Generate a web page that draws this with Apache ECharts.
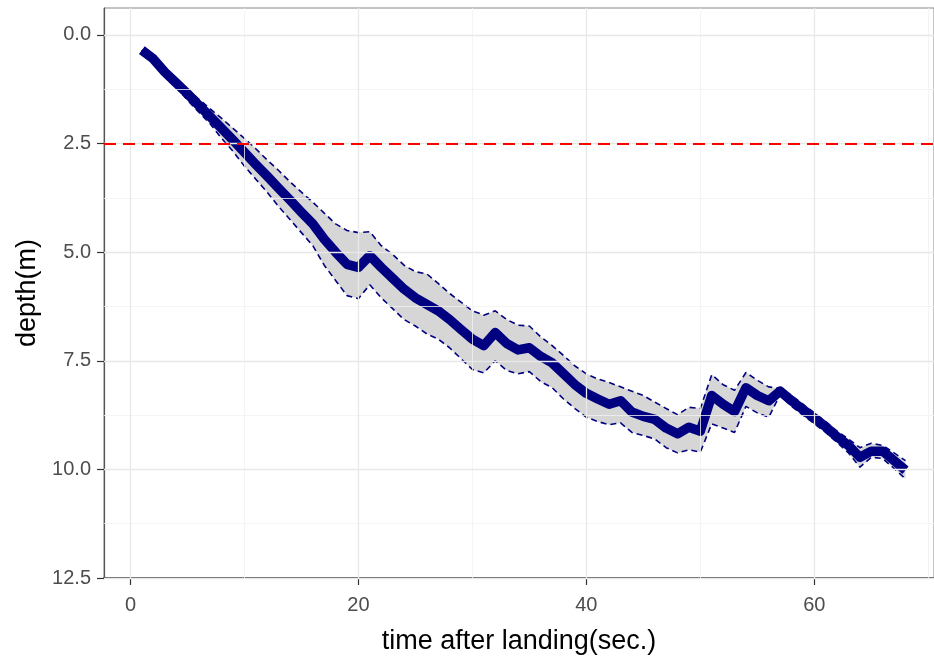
<!DOCTYPE html>
<html>
<head>
<meta charset="utf-8">
<script src="https://cdn.jsdelivr.net/npm/echarts@6/dist/echarts.min.js"></script>
<style>
  html, body { margin: 0; padding: 0; background: #ffffff; }
  #chart { width: 934px; height: 660px; }
</style>
</head>
<body>
<div id="chart"></div>
<script>
const times = [
  1, 2, 3, 4, 5, 6, 7, 8, 9, 10, 11, 12, 13, 14, 15, 16, 17,
  18, 19, 20, 21, 22, 23, 24, 25, 26, 27, 28, 29, 30, 31, 32, 33, 34,
  35, 36, 37, 38, 39, 40, 41, 42, 43, 44, 45, 46, 47, 48, 49, 50, 51,
  52, 53, 54, 55, 56, 57, 58, 59, 60, 61, 62, 63, 64, 65, 66, 67, 68
];

// mean depth per second
const depthMean = [
  0.35, 0.55, 0.85, 1.1, 1.35, 1.62, 1.88, 2.15, 2.42, 2.7, 2.98, 3.25, 3.53, 3.8, 4.08, 4.35, 4.7,
  5.0, 5.28, 5.35, 5.08, 5.35, 5.6, 5.85, 6.05, 6.2, 6.35, 6.55, 6.78, 7.0, 7.15, 6.85, 7.1, 7.25,
  7.2, 7.4, 7.55, 7.8, 8.05, 8.25, 8.38, 8.5, 8.42, 8.68, 8.78, 8.85, 9.05, 9.18, 9.03, 9.12, 8.3,
  8.5, 8.67, 8.12, 8.3, 8.42, 8.2, 8.42, 8.62, 8.82, 9.02, 9.25, 9.45, 9.72, 9.58, 9.58, 9.8, 10.02
];

// ribbon: shallow side
const depthUpper = [
  0.35, 0.55, 0.82, 1.05, 1.25, 1.48, 1.7, 1.92, 2.15, 2.38, 2.62, 2.88, 3.12, 3.38, 3.62, 3.85, 4.1,
  4.35, 4.5, 4.55, 4.53, 4.85, 5.05, 5.3, 5.45, 5.5, 5.72, 5.95, 6.15, 6.35, 6.45, 6.35, 6.55, 6.68,
  6.7, 6.95, 7.15, 7.38, 7.62, 7.8, 7.92, 8.0, 8.1, 8.2, 8.3, 8.45, 8.6, 8.74, 8.57, 8.6, 7.82,
  8.05, 8.18, 7.77, 7.95, 8.1, 8.14, 8.3, 8.5, 8.7, 8.9, 9.12, 9.3, 9.5, 9.4, 9.45, 9.62, 9.8
];

// ribbon: deep side
const depthLower = [
  0.35, 0.58, 0.9, 1.2, 1.5, 1.78, 2.05, 2.38, 2.68, 3.02, 3.32, 3.62, 3.95, 4.25, 4.55, 4.85, 5.3,
  5.65, 6.0, 6.07, 5.75, 6.05, 6.3, 6.55, 6.7, 6.88, 7.0, 7.2, 7.45, 7.7, 7.78, 7.5, 7.72, 7.8,
  7.75, 7.98, 8.12, 8.38, 8.6, 8.8, 8.9, 8.97, 8.93, 9.15, 9.22, 9.3, 9.5, 9.62, 9.55, 9.6, 8.95,
  9.05, 9.15, 8.55, 8.7, 8.8, 8.28, 8.55, 8.75, 8.95, 9.15, 9.38, 9.62, 9.95, 9.72, 9.75, 9.98, 10.22
];

const xTicks = [0, 20, 40, 60];
const xMinor = [10, 30, 50, 70];
const yTicks = [0, 2.5, 5, 7.5, 10, 12.5];
const yMinor = [1.25, 3.75, 6.25, 8.75, 11.25];
const thresholdDepth = 2.5;

const NAVY = "#000080";
const FONT = "Liberation Sans";

const pairs = (ys) => times.map((t, i) => [t, ys[i]]);

const gridLines = [
  ...xMinor.map((v) => ({ xAxis: v, lineStyle: { color: "#f1f1f1", width: 0.8, type: "solid" } })),
  ...yMinor.map((v) => ({ yAxis: v, lineStyle: { color: "#f1f1f1", width: 0.8, type: "solid" } })),
  ...xTicks.map((v) => ({ xAxis: v, lineStyle: { color: "#e8e8e8", width: 1.3, type: "solid" } })),
  ...yTicks.map((v) => ({ yAxis: v, lineStyle: { color: "#e8e8e8", width: 1.3, type: "solid" } })),
];

// ribbon polygon: shallow side forward, deep side back
function renderRibbon(params, api) {
  const pts = [];
  times.forEach((t, i) => pts.push(api.coord([t, depthUpper[i]])));
  for (let i = times.length - 1; i >= 0; i--) {
    pts.push(api.coord([times[i], depthLower[i]]));
  }
  return {
    type: "polygon",
    shape: { points: pts },
    style: { fill: "#d6d6d6" },
  };
}

const chart = echarts.init(document.getElementById("chart"));

chart.setOption({
  animation: false,
  backgroundColor: "#ffffff",
  grid: {
    left: 104,
    right: 0,
    top: 8,
    bottom: 82,
    show: true,
    borderColor: "#888888",
    borderWidth: 1,
  },
  xAxis: {
    type: "value",
    min: -2.32,
    max: 70.5,
    name: "time after landing(sec.)",
    nameLocation: "middle",
    nameGap: 50,
    nameTextStyle: { color: "#000000", fontSize: 27, fontFamily: FONT },
    axisLine: { show: true, onZero: false, lineStyle: { color: "#333333", width: 1.6 } },
    axisTick: { show: true, length: 7, customValues: xTicks, lineStyle: { color: "#333333", width: 1.2 } },
    axisLabel: {
      customValues: xTicks,
      margin: 17,
      color: "#4d4d4d",
      fontSize: 20,
      fontFamily: FONT,
    },
    splitLine: { show: false },
  },
  yAxis: {
    type: "value",
    inverse: true,
    min: -0.62,
    max: 12.5,
    name: "depth(m)",
    nameLocation: "middle",
    nameGap: 63,
    nameRotate: 90,
    nameTextStyle: { color: "#000000", fontSize: 27, fontFamily: FONT },
    axisLine: { show: true, onZero: false, lineStyle: { color: "#555555", width: 1.2 } },
    axisTick: { show: true, length: 7, customValues: yTicks, lineStyle: { color: "#333333", width: 1.2 } },
    axisLabel: {
      customValues: yTicks,
      margin: 13,
      color: "#4d4d4d",
      fontSize: 20,
      fontFamily: FONT,
      formatter: (v) => Number(v).toFixed(1),
    },
    splitLine: { show: false },
  },
  series: [
    {
      name: "grid",
      type: "line",
      data: pairs(depthMean),
      symbol: "none",
      silent: true,
      lineStyle: { opacity: 0 },
      z: 0,
      markLine: {
        silent: true,
        symbol: "none",
        label: { show: false },
        data: gridLines,
      },
    },
    {
      name: "band",
      type: "custom",
      data: [[times[0], depthUpper[0]]],
      renderItem: renderRibbon,
      silent: true,
      clip: true,
      z: 2,
    },
    {
      name: "upper",
      type: "line",
      data: pairs(depthUpper),
      symbol: "none",
      silent: true,
      lineStyle: { color: NAVY, width: 1.6, type: [6, 4] },
      z: 3,
    },
    {
      name: "lower",
      type: "line",
      data: pairs(depthLower),
      symbol: "none",
      silent: true,
      lineStyle: { color: NAVY, width: 1.6, type: [6, 4] },
      z: 3,
    },
    {
      name: "mean",
      type: "line",
      data: pairs(depthMean),
      symbol: "none",
      silent: true,
      lineStyle: { color: NAVY, width: 9.5, join: "round", cap: "butt" },
      z: 4,
      markLine: {
        silent: true,
        symbol: "none",
        label: { show: false },
        lineStyle: { color: "#ff0000", width: 1.8, type: [12, 7] },
        data: [{ yAxis: thresholdDepth }],
        z: 5,
      },
    },
  ],
});

window.addEventListener("resize", () => chart.resize());
</script>
</body>
</html>
